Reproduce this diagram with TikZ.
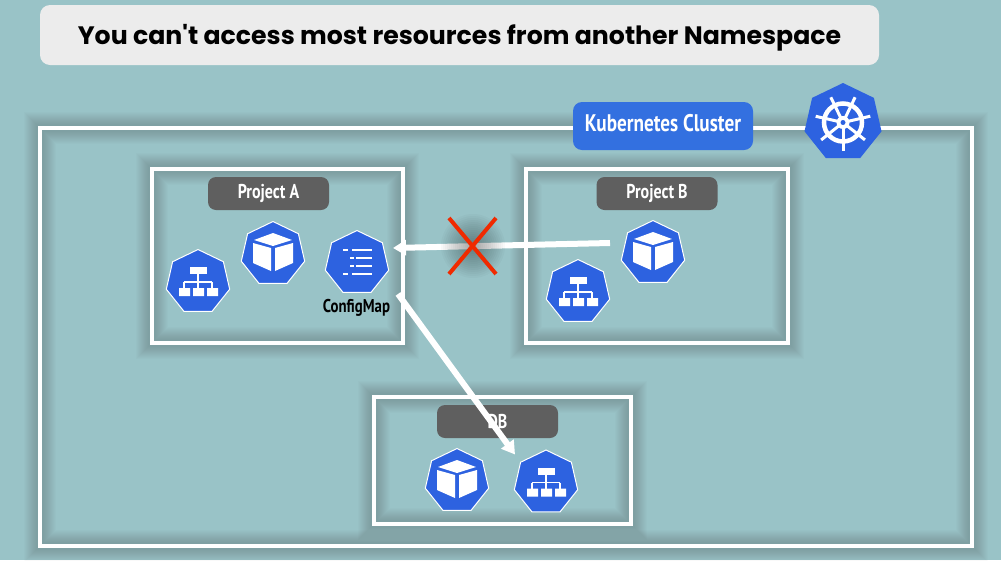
\documentclass[tikz,border=0pt]{standalone}
\usepackage{fontspec}
\usepackage{xcolor}
\usetikzlibrary{calc,shapes,positioning,arrows.meta}
\newfontfamily\titlefont{Poppins}
\newfontfamily\labelfont[FakeStretch=0.8]{PT Sans}
\definecolor{backdrop}{RGB}{153, 195, 199}
\definecolor{kubeblue}{RGB}{45, 98, 224}
\definecolor{tagblue}{RGB}{51, 112, 224}
\definecolor{taggrey}{RGB}{95, 95, 95}
\definecolor{titlegrey}{RGB}{236, 236, 236}
\definecolor{crossred}{RGB}{240, 42, 0}
\tikzset{
  glow/.style={preaction={draw=black, draw opacity=.011, line width=#1}},
  framebox/.style={draw=white, line width=4pt, inner sep=0pt, glow=32pt, glow=30pt, glow=28pt, glow=26pt, glow=24pt, glow=22pt, glow=20pt, glow=18pt, glow=16pt, glow=14pt, glow=12pt, glow=10pt, glow=8pt},
  nametag/.style={fill=taggrey, text=white, rounded corners=8pt, minimum width=121pt, minimum height=33pt, inner sep=0pt, font=\labelfont\fontsize{20}{20}\selectfont\bfseries},
  kubeicon/.style={regular polygon, regular polygon sides=7, fill=kubeblue, draw=white, line width=1pt, minimum size=65pt, inner sep=0pt},
  linkarrow/.style={draw=white, line width=6pt, -{Triangle[length=13pt, width=15pt]}},
  pics/podglyph/.style={code={
    \fill[white] (0,-21) -- (-19,-14) -- (0,-8) -- (19,-14) -- cycle;
    \fill[white] (-20,-11) -- (-2,-6) -- (-2,17) -- (-20,9) -- cycle;
    \fill[white] (2,-6) -- (20,-11) -- (20,9) -- (2,17) -- cycle;
  }},
  pics/svcglyph/.style={code={
    \fill[white] (-8,-15) rectangle (9,-8);
    \draw[white, line width=1.2pt] (0,-8) -- (0,6) (-14,0) -- (14,0) (-14,0) -- (-14,6) (14,0) -- (14,6);
    \fill[white] (-19,6) rectangle (-8,14) (-5,6) rectangle (6,14) (9,6) rectangle (20,14);
  }},
  pics/mapglyph/.style={code={
    \draw[white, line width=2.4pt] (-14,-13) -- (-9,-13) (-5,-13) -- (15,-13)
      (-7,-5) -- (-3,-5) (-1,-5) -- (15,-5)
      (-7,3) -- (-3,3) (-1,3) -- (15,3)
      (-14,11) -- (-9,11) (-5,11) -- (15,11);
  }},
  pics/wheelglyph/.style={code={
    \draw[white, line width=4.5pt] (0,0) circle (19);
    \foreach \a in {90,141.4,...,400} {
      \draw[white, line width=3pt] (\a:4) -- (\a:28);
    }
    \fill[white] (0,0) circle (6.5);
    \fill[kubeblue] (0,0) circle (2.5);
  }},
}

\begin{document}
\begin{tikzpicture}[x=1pt, y=-1pt]
  \useasboundingbox (0,0) rectangle (1001,560);
  \fill[backdrop] (0,0) rectangle (1001,560);

  \node[fill=titlegrey, rounded corners=10pt, minimum width=839pt, minimum height=60pt, text depth=1.5pt, font=\titlefont\fontsize{25.2}{25}\selectfont\bfseries] (title) at (459.5,35) {You can't access most resources from another Namespace};

  \node[framebox, minimum width=932pt, minimum height=418pt] (cluster) at (506,337) {};
  \node[framebox, minimum width=251pt, minimum height=174pt] (projA) at (277.5,256) {};
  \node[framebox, minimum width=262pt, minimum height=174pt] (projB) at (657,256) {};
  \node[framebox, minimum width=257pt, minimum height=127pt] (dbbox) at (502.5,460.5) {};

  \node[fill=tagblue, text=white, rounded corners=9pt, minimum width=180pt, minimum height=48pt, inner sep=0pt, text depth=6pt, font=\labelfont\fontsize{24}{24}\selectfont\bfseries] (clustertag) at (663,126) {Kubernetes Cluster};
  \node[kubeicon, draw=none, minimum size=79pt] (wheel) at (843,122.5) {};
  \pic at (wheel.center) {wheelglyph};

  \node[nametag] (tagA) at (268.5,193.5) {Project A};
  \node[nametag] (tagB) at (657,193.5) {Project B};
  \node[nametag] (tagDB) at (497.5,421.5) {DB};

  \node[kubeicon] (podA) at (273,254) {};
  \pic at (podA.center) {podglyph};
  \node[kubeicon] (svcA) at (198,282) {};
  \pic at (svcA.center) {svcglyph};
  \node[kubeicon] (mapA) at (357,263) {};
  \pic at (mapA.center) {mapglyph};
  \node[font=\labelfont\fontsize{18.5}{19}\selectfont\bfseries, text=black, inner sep=0pt] (maplabel) at (356.5,308) {ConfigMap};

  \node[kubeicon] (podB) at (653,253) {};
  \pic at (podB.center) {podglyph};
  \node[kubeicon] (svcB) at (578,292) {};
  \pic at (svcB.center) {svcglyph};

  \node[kubeicon] (podDB) at (457,481) {};
  \pic at (podDB.center) {podglyph};
  \node[kubeicon] (svcDB) at (546,482.5) {};
  \pic at (svcDB.center) {svcglyph};

  \draw[linkarrow] ([shift={(-43,-10)}]podB.center) -- ([shift={(36,-15)}]mapA.center);
  \draw[linkarrow] ([shift={(41,31)}]mapA.center) -- ([shift={(-31,-28)}]svcDB.center);

  \foreach \r in {4,6,...,32} {
    \fill[black, opacity=.022] (473,246) circle (\r);
  }
  \node[cross out, draw=crossred, line width=4pt, minimum width=43pt, minimum height=52pt, inner sep=0pt] (blocked) at (472.5,246) {};
\end{tikzpicture}
\end{document}
